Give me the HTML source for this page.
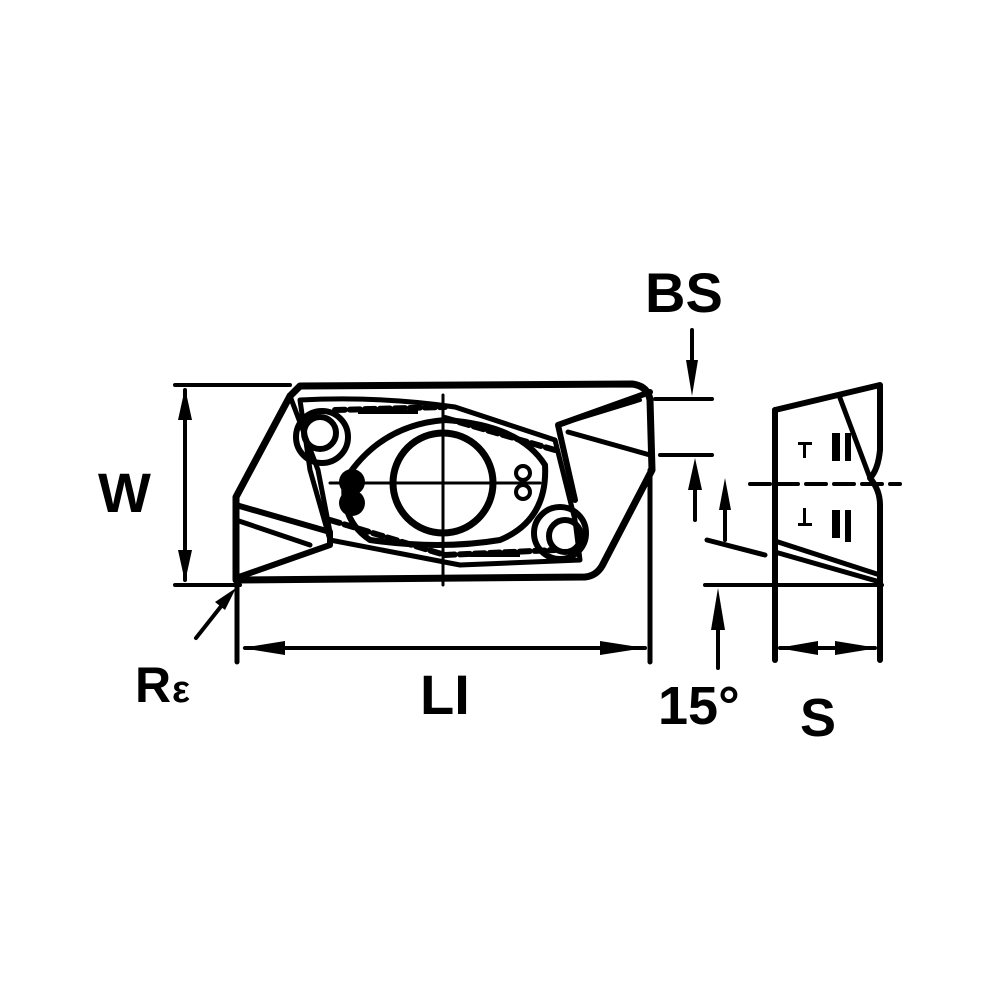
<!DOCTYPE html>
<html><head><style>html,body{margin:0;padding:0;background:#fff}</style></head><body>
<svg width="1000" height="1000" viewBox="0 0 1000 1000" xmlns="http://www.w3.org/2000/svg">
<rect width="1000" height="1000" fill="#fff"/>
<g fill="none" stroke="#000" stroke-linecap="round" stroke-linejoin="round">
<path d="M290,396 L300,386 L632,384 Q648,386 650,400 L652,470 L602,566 Q596,576 585,577 L236,580 L236,497 Z" stroke-width="7"/>
<path d="M236,505 L330,532 L330,545 L236,578" stroke-width="6"/>
<path d="M236,520 L310,545" stroke-width="5"/>
<path d="M290,396 L318,470 L330,532" stroke-width="5"/>
<path d="M650,392 L558,425 L575,500" stroke-width="6"/>
<path d="M568,432 L650,455" stroke-width="5"/>
<path d="M575,420 L640,400" stroke-width="4"/>
<path d="M300,400 Q380,396 455,407 L555,440 L575,520 L580,560 L460,565 L330,540 L310,470 Z" stroke-width="5"/>
<path d="M335,410 L445,407 M445,418 L555,450" stroke-width="6" stroke-dasharray="10,5"/>
<path d="M330,520 L445,555 L555,550" stroke-width="6" stroke-dasharray="10,5"/>
<path d="M345,480 Q380,425 445,420 Q520,425 545,465 Q548,520 500,540 Q440,550 370,540 Q340,520 345,480 Z" stroke-width="6"/>
<circle cx="443" cy="483" r="50" stroke-width="7"/>
<path d="M443,395 L443,585 M330,483 L540,483" stroke-width="3"/>
<circle cx="320" cy="433" r="16" stroke-width="6"/>
<circle cx="322" cy="437" r="26" stroke-width="6"/>
<circle cx="565" cy="536" r="16" stroke-width="6"/>
<circle cx="560" cy="533" r="26" stroke-width="6"/>
<circle cx="523" cy="473" r="7" stroke-width="4"/>
<circle cx="523" cy="492" r="7" stroke-width="4"/>
<path d="M175,385 L290,385 M175,585 L240,585" stroke-width="4"/>
<path d="M185,390 L185,580" stroke-width="4"/>
<path d="M237,585 L237,662 M650,470 L650,662" stroke-width="5"/>
<path d="M245,648 L645,648" stroke-width="4"/>
<path d="M196,638 L230,595" stroke-width="4"/>
<path d="M692,330 L692,380 M655,399 L712,399 M660,455 L712,455 M695,475 L695,520 M725,500 L725,540" stroke-width="4"/>
<path d="M707,540 L765,555" stroke-width="5"/>
<path d="M705,585 L882,585" stroke-width="4"/>
<path d="M718,630 L718,668" stroke-width="4"/>
<path d="M775,410 L880,385 L880,450 Q878,470 870,478 Q880,490 880,505 L880,660" stroke-width="6"/>
<path d="M775,410 L775,660" stroke-width="6"/>
<path d="M840,398 L870,478" stroke-width="5"/>
<path d="M775,541 L880,575 M775,552 L880,582" stroke-width="5"/>
<path d="M750,484 L900,484" stroke-width="4" stroke-dasharray="20,8"/>
<path d="M780,648 L875,648" stroke-width="4"/>
</g>
<g fill="#000">
<circle cx="352" cy="482" r="13"/><circle cx="352" cy="503" r="13"/>
<polygon points="185,388 178,420 192,420"/><polygon points="185,582 178,550 192,550"/>
<polygon points="242,648 285,641 285,655"/><polygon points="645,648 600,641 600,655"/>
<polygon points="236,588 215,602 225,610"/>
<polygon points="692,396 686,360 698,360"/>
<polygon points="695,458 688,490 702,490"/>
<polygon points="725,478 719,510 731,510"/>
<polygon points="718,588 711,630 725,630"/>
<polygon points="778,648 818,641 818,655"/><polygon points="878,648 835,641 835,655"/>
<rect x="832" y="433" width="8" height="28"/><rect x="845" y="433" width="6" height="28"/>
<rect x="832" y="510" width="8" height="28"/><rect x="845" y="510" width="6" height="32"/>
<rect x="798" y="442" width="14" height="3"/><rect x="803" y="442" width="3" height="16"/>
<rect x="798" y="523" width="14" height="3"/><rect x="803" y="508" width="3" height="16"/>
<rect x="358" y="410" width="60" height="4"/><rect x="470" y="553" width="50" height="4"/>
</g>
<g font-family="Liberation Sans, sans-serif" font-weight="bold" fill="#000">
<text x="98" y="512" font-size="56">W</text>
<text x="645" y="312" font-size="56">BS</text>
<text x="135" y="702" font-size="50">R</text><text x="172" y="702" font-size="38">ε</text>
<text x="420" y="714" font-size="56">LI</text>
<text x="658" y="724" font-size="54">15°</text>
<text x="800" y="736" font-size="54">S</text>
</g>
</svg>
</body></html>
